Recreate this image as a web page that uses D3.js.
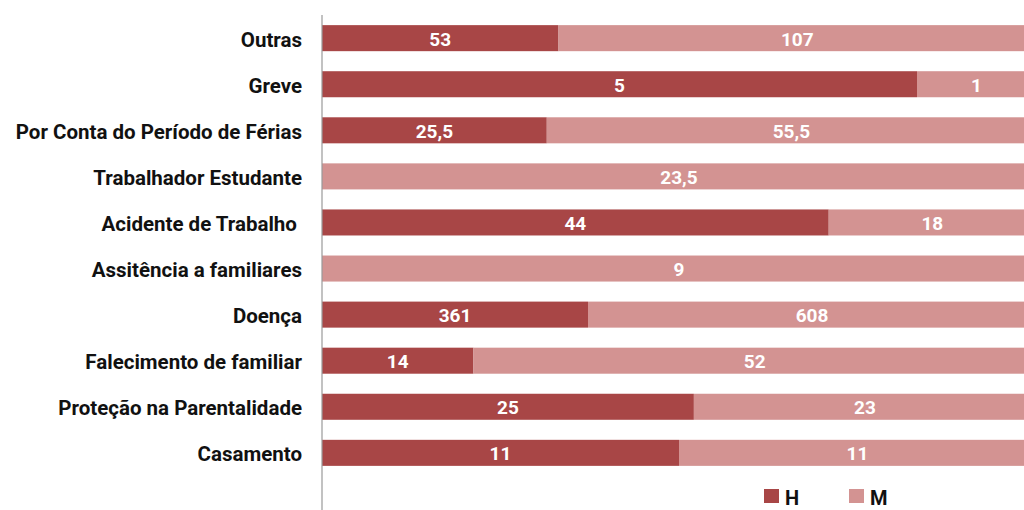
<!DOCTYPE html>
<html>
<head>
<meta charset="utf-8">
<script src="https://cdn.jsdelivr.net/npm/d3@7"></script>
<style>
  body { margin: 0; background: #fff; }
  text { font-family: Roboto, "Noto Sans", sans-serif; font-weight: 700; white-space: pre; }
</style>
</head>
<body>
<script>
(function () {
  var categories = [
    "Outras", "Greve", "Por Conta do Período de Férias", "Trabalhador Estudante",
    "Acidente de Trabalho ", "Assitência a familiares", "Doença",
    "Falecimento de familiar", "Proteção na Parentalidade", "Casamento"
  ];
  var seriesH = [53, 5, 25.5, 0, 44, 0, 361, 14, 25, 11];
  var seriesM = [107, 1, 55.5, 23.5, 18, 9, 608, 52, 23, 11];
  var seriesNames = ["H", "M"];
  var colors = ["#a84646", "#d39392"];

  var width = 1024, height = 510;
  var left = 322, right = 1036;

  var svg = d3.select("body")
    .append("svg")
    .attr("width", width)
    .attr("height", height);

  var rows = categories.map(function (c, i) {
    var tot = seriesH[i] + seriesM[i];
    return { cat: c, H: seriesH[i] / tot, M: seriesM[i] / tot, vH: seriesH[i], vM: seriesM[i] };
  });

  var stack = d3.stack().keys(seriesNames)(rows);

  var x = d3.scaleLinear().domain([0, 1]).range([left, right]);
  var y = d3.scaleBand().domain(categories).range([15, 476]).paddingInner(0.435).paddingOuter(0.22);

  var fmt = function (v) { return String(v).replace(".", ","); };

  var groups = svg.selectAll("g.series")
    .data(stack)
  .enter()
    .append("g")
    .attr("class", "series")
    .attr("fill", function (d, i) { return colors[i]; });

  groups.selectAll("rect")
    .data(function (d) { return d; })
  .enter()
    .append("rect")
    .attr("x", function (d) { return x(d[0]); })
    .attr("y", function (d) { return y(d.data.cat); })
    .attr("width", function (d) { return x(d[1]) - x(d[0]); })
    .attr("height", y.bandwidth());

  groups.each(function (s) {
    d3.select(this).selectAll("text")
      .data(s.filter(function (d) { return d[1] - d[0] > 0; }))
    .enter()
      .append("text")
      .attr("x", function (d) { return (x(d[0]) + x(d[1])) / 2; })
      .attr("y", function (d) { return y(d.data.cat) + y.bandwidth() / 2; })
      .attr("dy", "0.4em")
      .attr("text-anchor", "middle")
      .attr("fill", "white")
      .style("font-size", "19px")
      .text(function (d) { return fmt(d.data["v" + s.key]); });
  });

  var yAxis = svg.append("g")
    .attr("transform", "translate(" + left + ",0)")
    .call(d3.axisLeft(y).tickSize(0).tickPadding(20));
  yAxis.select(".domain").remove();
  yAxis.selectAll("text")
    .attr("dy", "0.42em")
    .attr("fill", "#111")
    .style("font-size", "20.5px");

  svg.append("line")
    .attr("x1", left).attr("x2", left)
    .attr("y1", 15).attr("y2", height)
    .attr("stroke", "#999")
    .attr("stroke-width", 1.2);

  // legend sits at the bottom edge, nudged up a little so the letters stay whole
  var legend = svg.append("g")
    .selectAll("g")
    .data(seriesNames)
  .enter()
    .append("g")
    .attr("transform", function (d, i) { return "translate(" + (764 + i * 85) + ",489)"; });
  legend.append("rect")
    .attr("width", 15).attr("height", 14)
    .attr("fill", function (d, i) { return colors[i]; });
  legend.append("text")
    .attr("x", 21).attr("y", 16)
    .attr("fill", "#111")
    .style("font-size", "20px")
    .text(function (d) { return d; });
})();
</script>
</body>
</html>
